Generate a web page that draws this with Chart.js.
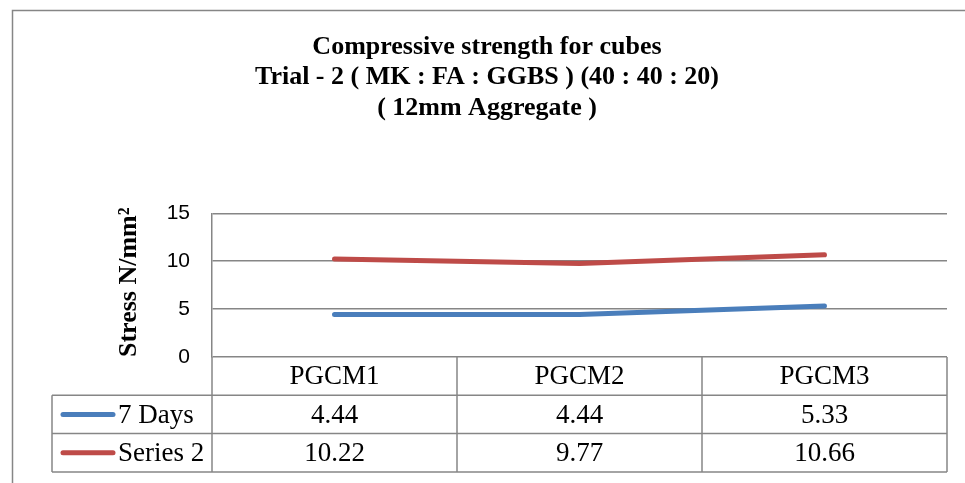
<!DOCTYPE html>
<html>
<head>
<meta charset="utf-8">
<script src="https://cdn.jsdelivr.net/npm/chart.js@4"></script>
<style>
  html, body { margin: 0; padding: 0; background: #fff; }
  #wrap { width: 965px; height: 483px; }
</style>
</head>
<body>
<div id="wrap"><canvas id="myChart" width="965" height="483"></canvas></div>
<script>
const categories = ['PGCM1', 'PGCM2', 'PGCM3'];
const seriesNames = ['7 Days', 'Series 2'];
const days7 = [4.44, 4.44, 5.33];
const series2 = [10.22, 9.77, 10.66];
const yTicks = [0, 5, 10, 15];

const blue = '#4A7EBB';
const red = '#BE4B48';
const gray = '#868686';
const serif = '"Liberation Serif", "Times New Roman", serif';

// outer frame of the chart object
const framePlugin = {
  id: 'frame',
  beforeDraw(chart) {
    const ctx = chart.ctx;
    ctx.save();
    ctx.fillStyle = '#fff';
    ctx.fillRect(0, 0, chart.width, chart.height);
    ctx.strokeStyle = gray;
    ctx.lineWidth = 1.5;
    ctx.strokeRect(12.5, 10.5, 1000, 1000);
    ctx.restore();
  }
};

// excel style data table under the plot
const tablePlugin = {
  id: 'dataTable',
  afterDraw(chart) {
    const ctx = chart.ctx;
    const x = chart.scales.x;
    const area = chart.chartArea;
    const rowH = 38.3;
    const colW = (area.right - area.left) / categories.length;
    const top = area.bottom;
    const legendLeft = 52;
    const rows = [days7, series2];
    const colors = [blue, red];

    ctx.save();
    ctx.strokeStyle = gray;
    ctx.lineWidth = 1.5;
    ctx.beginPath();
    // horizontal lines
    for (let r = 1; r <= 3; r++) {
      ctx.moveTo(legendLeft, top + rowH * r);
      ctx.lineTo(area.right, top + rowH * r);
    }
    // vertical lines
    for (let i = 0; i <= categories.length; i++) {
      const px = area.left + colW * i;
      ctx.moveTo(px, top);
      ctx.lineTo(px, top + rowH * 3);
    }
    ctx.moveTo(legendLeft, top + rowH);
    ctx.lineTo(legendLeft, top + rowH * 3);
    ctx.stroke();

    ctx.fillStyle = '#000';
    ctx.font = '27px ' + serif;
    ctx.textAlign = 'center';
    ctx.textBaseline = 'middle';
    categories.forEach((c, i) => {
      ctx.fillText(c, x.getPixelForValue(i), top + rowH * 0.5 + 1);
    });
    rows.forEach((vals, r) => {
      const cy = top + rowH * (r + 1.5) + 1;
      vals.forEach((v, i) => {
        ctx.fillText(v.toFixed(2), x.getPixelForValue(i), cy);
      });
      // legend key
      ctx.save();
      ctx.strokeStyle = colors[r];
      ctx.lineWidth = 5;
      ctx.lineCap = 'round';
      ctx.beginPath();
      ctx.moveTo(63, cy - 1);
      ctx.lineTo(113, cy - 1);
      ctx.stroke();
      ctx.restore();
      ctx.textAlign = 'left';
      ctx.fillText(seriesNames[r], 118, cy);
      ctx.textAlign = 'center';
    });
    ctx.restore();
  }
};

const ctx = document.getElementById('myChart').getContext('2d');
const myChart = new Chart(ctx, {
  type: 'line',
  data: {
    labels: categories,
    datasets: [{
      label: seriesNames[0],
      data: days7,
      borderColor: blue,
      backgroundColor: blue,
      borderWidth: 5,
      borderCapStyle: 'round',
      pointRadius: 0,
      tension: 0
    }, {
      label: seriesNames[1],
      data: series2,
      borderColor: red,
      backgroundColor: red,
      borderWidth: 5,
      borderCapStyle: 'round',
      pointRadius: 0,
      tension: 0
    }]
  },
  options: {
    responsive: false,
    animation: false,
    layout: {
      padding: { left: 27, right: 18, top: 0, bottom: 126 }
    },
    plugins: {
      legend: { display: false },
      tooltip: { enabled: false },
      title: {
        display: true,
        text: ['Compressive strength for cubes', 'Trial - 2 ( MK : FA : GGBS ) (40 : 40 : 20)', '( 12mm Aggregate )'],
        color: '#000',
        font: { family: serif, size: 26, weight: 'bold', lineHeight: 1.17 },
        padding: { top: 32, bottom: 90 }
      }
    },
    scales: {
      x: {
        display: false,
        offset: true
      },
      y: {
        min: 0,
        max: 15,
        afterBuildTicks(scale) {
          scale.ticks = yTicks.map(v => ({ value: v }));
        },
        afterFit(scale) {
          scale.width = 185;
        },
        grid: {
          color: gray,
          lineWidth: 1.5,
          drawTicks: false
        },
        border: { display: true, color: gray, width: 1.5 },
        ticks: {
          color: '#000',
          padding: 22,
          font: { family: '"Liberation Sans", Arial, sans-serif', size: 21 }
        },
        title: {
          display: true,
          text: 'Stress N/mm²',
          align: 'start',
          color: '#000',
          font: { family: serif, size: 26, weight: 'bold', lineHeight: 1.2 },
          padding: { top: 87 }
        }
      }
    }
  },
  plugins: [framePlugin, tablePlugin]
});
</script>
</body>
</html>
